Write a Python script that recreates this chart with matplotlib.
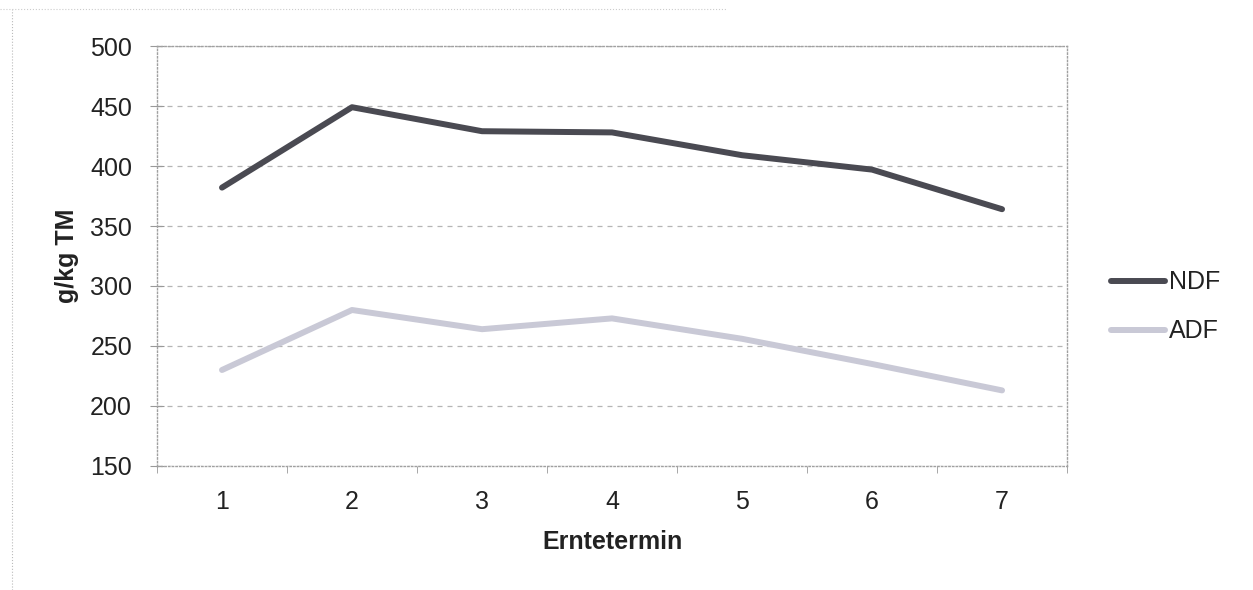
import matplotlib.pyplot as plt
from matplotlib.lines import Line2D

plt.rcParams["font.family"] = ["Liberation Sans", "DejaVu Sans"]

# Data
termine = [1, 2, 3, 4, 5, 6, 7]
ndf = [382, 449, 429, 428, 409, 397, 364]
adf = [230, 280, 264, 273, 256, 235, 213]

fig = plt.figure(figsize=(12.53, 5.9), dpi=100)
ax = fig.add_axes([0.1253, 0.2102, 0.7263, 0.7118])

ax.plot(termine, ndf, color="#4a4a52", lw=4.3, solid_capstyle="round", label="NDF")
ax.plot(termine, adf, color="#c9c9d6", lw=4.3, solid_capstyle="round", label="ADF")

ax.set_xlim(0.5, 7.5)
ax.set_ylim(150, 500)
ax.set_yticks(range(150, 501, 50))
ax.set_xticks(termine)
ax.set_xticks([x + 0.5 for x in range(0, 8)], minor=True)
ax.tick_params(axis="x", which="major", length=0, pad=17, labelsize=18, labelcolor="#222222")
ax.tick_params(axis="x", which="minor", length=5, color="#999999", direction="out")
ax.tick_params(axis="y", length=10, direction="inout", color="#999999",
               labelsize=18, pad=13, labelcolor="#222222")

ax.grid(axis="y", color="#b5b5b5", linestyle=(0, (4, 4)), lw=0.9)
for s in ax.spines.values():
    s.set_color("#a0a0a0")
    s.set_linestyle(":")
    s.set_linewidth(1.0)

ax.set_xlabel("Erntetermin", fontsize=18, fontweight="bold", labelpad=12, color="#222222")
ax.set_ylabel("g/kg TM", fontsize=18, fontweight="bold", labelpad=8, color="#222222")

fig.legend(loc="center left", bbox_to_anchor=(0.887, 0.48), frameon=False,
           borderpad=0, borderaxespad=0, fontsize=18, handlelength=2.15,
           handletextpad=0.15, labelspacing=1.0, labelcolor="#222222")

# faint outer chart border from the scan
fig.add_artist(Line2D([0.0096, 0.0096], [0.0, 0.985], color="#bbbbbb", lw=0.8, ls=":"))
fig.add_artist(Line2D([0.0, 0.58], [0.985, 0.985], color="#cccccc", lw=0.8, ls=":"))

fig.savefig("out.png", dpi=100)
